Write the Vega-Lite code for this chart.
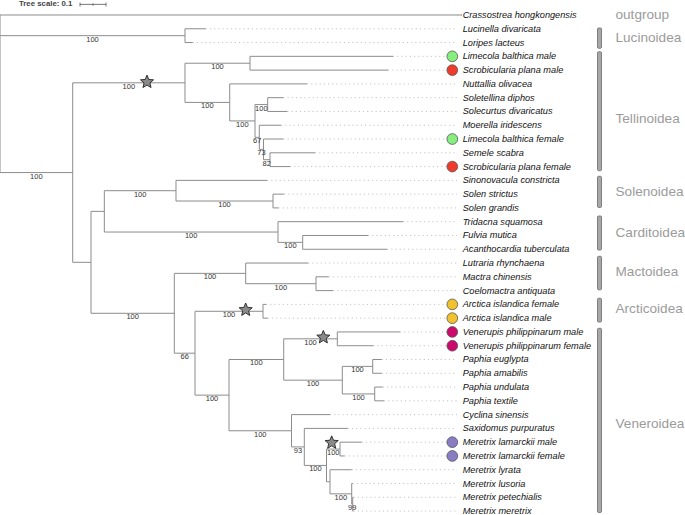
{
  "$schema": "https://vega.github.io/schema/vega-lite/v6.json",
  "width": 685,
  "height": 515,
  "autosize": {"type": "none"},
  "padding": 0,
  "background": "white",
  "config": {"view": {"stroke": null}, "text": {"font": "Liberation Sans"}},
  "datasets": {
    "nodes": [
      {"name": "root", "parent": null, "depth": 0, "row": 5.7175, "leaf": false},
      {"name": "n_luc", "parent": "root", "depth": 0.7115, "row": 1.5, "support": 100, "leaf": false},
      {"name": "n_A", "parent": "root", "depth": 0.2796, "row": 11.4351, "support": 100, "leaf": false},
      {"name": "n_tell", "parent": "n_A", "depth": 0.7115, "row": 4.9219, "support": 100, "leaf": false},
      {"name": "n_lsm", "parent": "n_tell", "depth": 0.9615, "row": 3.5, "support": 100, "leaf": false},
      {"name": "n_230", "parent": "n_tell", "depth": 0.8835, "row": 6.3438, "support": 100, "leaf": false},
      {"name": "n_254", "parent": "n_230", "depth": 0.9808, "row": 7.6875, "support": 100, "leaf": false},
      {"name": "n_solet", "parent": "n_254", "depth": 1.0296, "row": 6.5, "support": 100, "leaf": false},
      {"name": "n67", "parent": "n_254", "depth": 0.9973, "row": 8.875, "support": 67, "leaf": false},
      {"name": "n73", "parent": "n67", "depth": 1.0135, "row": 9.75, "support": 73, "leaf": false},
      {"name": "n82", "parent": "n73", "depth": 1.0385, "row": 10.5, "support": 82, "leaf": false},
      {"name": "n_91", "parent": "n_A", "depth": 0.35, "row": 17.9482, "leaf": false},
      {"name": "n_sc", "parent": "n_91", "depth": 0.4012, "row": 14.25, "leaf": false},
      {"name": "n_solenoidea", "parent": "n_sc", "depth": 0.6769, "row": 12.75, "support": 100, "leaf": false},
      {"name": "n_solen", "parent": "n_solenoidea", "depth": 1.05, "row": 13.5, "support": 100, "leaf": false},
      {"name": "n_card", "parent": "n_sc", "depth": 1.0692, "row": 15.75, "support": 100, "leaf": false},
      {"name": "n_fulvia", "parent": "n_card", "depth": 1.1642, "row": 16.5, "support": 100, "leaf": false},
      {"name": "n_174", "parent": "n_91", "depth": 0.6704, "row": 21.6465, "support": 100, "leaf": false},
      {"name": "n_mact", "parent": "n_174", "depth": 0.945, "row": 18.75, "support": 100, "leaf": false},
      {"name": "n_mactra", "parent": "n_mact", "depth": 1.2154, "row": 19.5, "support": 100, "leaf": false},
      {"name": "n66", "parent": "n_174", "depth": 0.75, "row": 24.543, "support": 66, "leaf": false},
      {"name": "n_arct", "parent": "n66", "depth": 1.0115, "row": 21.5, "support": 100, "leaf": false},
      {"name": "n_229", "parent": "n66", "depth": 0.8808, "row": 27.5859, "support": 100, "leaf": false},
      {"name": "n_vp", "parent": "n_229", "depth": 1.0912, "row": 25, "support": 100, "leaf": false},
      {"name": "n_ven", "parent": "n_vp", "depth": 1.2973, "row": 23.5, "support": 100, "leaf": false},
      {"name": "n_paph", "parent": "n_vp", "depth": 1.3165, "row": 26.5, "support": 100, "leaf": false},
      {"name": "n_paph1", "parent": "n_paph", "depth": 1.4335, "row": 25.5, "support": 100, "leaf": false},
      {"name": "n_paph2", "parent": "n_paph", "depth": 1.4412, "row": 27.5, "support": 100, "leaf": false},
      {"name": "n_cyc", "parent": "n_229", "depth": 1.1212, "row": 30.1719, "support": 100, "leaf": false},
      {"name": "n_sax", "parent": "n_cyc", "depth": 1.1704, "row": 31.3438, "support": 93, "leaf": false},
      {"name": "n_mer", "parent": "n_sax", "depth": 1.2558, "row": 32.6875, "support": 100, "leaf": false},
      {"name": "n_mlam", "parent": "n_mer", "depth": 1.3077, "row": 31.5, "support": 100, "leaf": false},
      {"name": "n_lyr", "parent": "n_mer", "depth": 1.2692, "row": 33.875, "leaf": false},
      {"name": "n_lus", "parent": "n_lyr", "depth": 1.3527, "row": 34.75, "support": 100, "leaf": false},
      {"name": "n99", "parent": "n_lus", "depth": 1.3565, "row": 35.5, "support": 99, "leaf": false},
      {"name": "Crassostrea hongkongensis", "parent": "root", "depth": 1.7769, "row": 0, "leaf": true},
      {"name": "Lucinella divaricata", "parent": "n_luc", "depth": 0.7912, "row": 1, "leaf": true},
      {"name": "Loripes lacteus", "parent": "n_luc", "depth": 0.7412, "row": 2, "leaf": true},
      {"name": "Limecola balthica male", "parent": "n_lsm", "depth": 1.5115, "row": 3, "leaf": true, "marker": "Limecola balthica"},
      {"name": "Scrobicularia plana male", "parent": "n_lsm", "depth": 1.4923, "row": 4, "leaf": true, "marker": "Scrobicularia plana"},
      {"name": "Nuttallia olivacea", "parent": "n_230", "depth": 1.1808, "row": 5, "leaf": true},
      {"name": "Soletellina diphos", "parent": "n_solet", "depth": 1.0896, "row": 6, "leaf": true},
      {"name": "Solecurtus divaricatus", "parent": "n_solet", "depth": 1.105, "row": 7, "leaf": true},
      {"name": "Moerella iridescens", "parent": "n67", "depth": 1.0808, "row": 8, "leaf": true},
      {"name": "Limecola balthica female", "parent": "n73", "depth": 1.0896, "row": 9, "leaf": true, "marker": "Limecola balthica"},
      {"name": "Semele scabra", "parent": "n82", "depth": 1.2115, "row": 10, "leaf": true},
      {"name": "Scrobicularia plana female", "parent": "n82", "depth": 1.1154, "row": 11, "leaf": true, "marker": "Scrobicularia plana"},
      {"name": "Sinonovacula constricta", "parent": "n_solenoidea", "depth": 1.0269, "row": 12, "leaf": true},
      {"name": "Solen strictus", "parent": "n_solen", "depth": 1.0923, "row": 13, "leaf": true},
      {"name": "Solen grandis", "parent": "n_solen", "depth": 1.0712, "row": 14, "leaf": true},
      {"name": "Tridacna squamosa", "parent": "n_card", "depth": 1.55, "row": 15, "leaf": true},
      {"name": "Fulvia mutica", "parent": "n_fulvia", "depth": 1.4154, "row": 16, "leaf": true},
      {"name": "Acanthocardia tuberculata", "parent": "n_fulvia", "depth": 1.4885, "row": 17, "leaf": true},
      {"name": "Lutraria rhynchaena", "parent": "n_mact", "depth": 1.1846, "row": 18, "leaf": true},
      {"name": "Mactra chinensis", "parent": "n_mactra", "depth": 1.2642, "row": 19, "leaf": true},
      {"name": "Coelomactra antiquata", "parent": "n_mactra", "depth": 1.2808, "row": 20, "leaf": true},
      {"name": "Arctica islandica female", "parent": "n_arct", "depth": 1.0231, "row": 21, "leaf": true, "marker": "Arctica islandica"},
      {"name": "Arctica islandica  male", "parent": "n_arct", "depth": 1.0296, "row": 22, "leaf": true, "marker": "Arctica islandica"},
      {"name": "Venerupis philippinarum male", "parent": "n_ven", "depth": 1.5385, "row": 23, "leaf": true, "marker": "Venerupis philippinarum"},
      {"name": "Venerupis philippinarum female", "parent": "n_ven", "depth": 1.4358, "row": 24, "leaf": true, "marker": "Venerupis philippinarum"},
      {"name": "Paphia euglypta", "parent": "n_paph1", "depth": 1.4681, "row": 25, "leaf": true},
      {"name": "Paphia amabilis", "parent": "n_paph1", "depth": 1.4681, "row": 26, "leaf": true},
      {"name": "Paphia undulata", "parent": "n_paph2", "depth": 1.4719, "row": 27, "leaf": true},
      {"name": "Paphia textile", "parent": "n_paph2", "depth": 1.4769, "row": 28, "leaf": true},
      {"name": "Cyclina sinensis", "parent": "n_cyc", "depth": 1.2692, "row": 29, "leaf": true},
      {"name": "Saxidomus purpuratus", "parent": "n_sax", "depth": 1.3373, "row": 30, "leaf": true},
      {"name": "Meretrix lamarckii male", "parent": "n_mlam", "depth": 1.3912, "row": 31, "leaf": true, "marker": "Meretrix lamarckii"},
      {"name": "Meretrix lamarckii female", "parent": "n_mlam", "depth": 1.325, "row": 32, "leaf": true, "marker": "Meretrix lamarckii"},
      {"name": "Meretrix lyrata", "parent": "n_lyr", "depth": 1.3527, "row": 33, "leaf": true},
      {"name": "Meretrix lusoria", "parent": "n_lus", "depth": 1.3565, "row": 34, "leaf": true},
      {"name": "Meretrix petechialis", "parent": "n99", "depth": 1.3596, "row": 35, "leaf": true},
      {"name": "Meretrix meretrix", "parent": "n99", "depth": 1.3596, "row": 36, "leaf": true}
    ],
    "stars": [
      {"clade": "Tellinoidea", "depth": 0.5654, "row": 4.86},
      {"clade": "Arctica islandica", "depth": 0.945, "row": 21.4},
      {"clade": "Venerupis philippinarum", "depth": 1.2436, "row": 23.39},
      {"clade": "Meretrix lamarckii", "depth": 1.2757, "row": 31.04}
    ],
    "clades": [
      {"clade": "outgroup", "labelRow": 0},
      {"clade": "Lucinoidea", "start": 0.943, "end": 2.417, "labelRow": 1.65},
      {"clade": "Tellinoidea", "start": 2.663, "end": 11.299, "labelRow": 7.57},
      {"clade": "Solenoidea", "start": 11.705, "end": 13.97, "labelRow": 12.85},
      {"clade": "Carditoidea", "start": 14.586, "end": 17.054, "labelRow": 15.84},
      {"clade": "Mactoidea", "start": 17.511, "end": 19.942, "labelRow": 18.63},
      {"clade": "Arcticoidea", "start": 20.559, "end": 22.279, "labelRow": 21.34},
      {"clade": "Veneroidea", "start": 22.736, "end": 36.103, "labelRow": 29.68}
    ],
    "scalebar": [
      {"label": "Tree scale: 0.1", "start": 0.3077, "end": 0.4077, "row": -0.77}
    ],
    "scaleticks": [
      {"pos": 0.3077, "kind": "end"},
      {"pos": 0.3577, "kind": "mid"},
      {"pos": 0.4077, "kind": "end"}
    ]
  },
  "layer": [
    {
      "data": {"name": "nodes"},
      "transform": [{"filter": "datum.leaf"}],
      "mark": {"type": "rule", "stroke": "#c4c4c4", "strokeWidth": 1, "strokeDash": [1.2, 3]},
      "encoding": {
        "x": {"field": "depth", "type": "quantitative", "scale": {"domain": [0, 2.6346], "nice": false, "zero": false}, "axis": null},
        "x2": {"datum": 1.7577},
        "y": {"field": "row", "type": "quantitative", "scale": {"domain": [-1.0885, 36.2845], "nice": false, "zero": false, "reverse": true}, "axis": null}
      }
    },
    {
      "data": {"name": "nodes"},
      "transform": [
        {"filter": "datum.parent != null"},
        {"lookup": "parent", "from": {"data": {"name": "nodes"}, "key": "name", "fields": ["depth"]}, "as": ["pdepth"]}
      ],
      "mark": {"type": "rule", "stroke": "#8c8c8c", "strokeWidth": 1},
      "encoding": {
        "x": {"field": "pdepth", "type": "quantitative", "scale": {"domain": [0, 2.6346], "nice": false, "zero": false}, "axis": null},
        "x2": {"field": "depth"},
        "y": {"field": "row", "type": "quantitative", "scale": {"domain": [-1.0885, 36.2845], "nice": false, "zero": false, "reverse": true}, "axis": null}
      }
    },
    {
      "data": {"name": "nodes"},
      "transform": [
        {"filter": "datum.parent != null"},
        {"aggregate": [{"op": "min", "field": "row", "as": "rmin"}, {"op": "max", "field": "row", "as": "rmax"}], "groupby": ["parent"]},
        {"lookup": "parent", "from": {"data": {"name": "nodes"}, "key": "name", "fields": ["depth"]}, "as": ["pdepth"]}
      ],
      "mark": {"type": "rule", "stroke": "#8c8c8c", "strokeWidth": 1},
      "encoding": {
        "x": {"field": "pdepth", "type": "quantitative", "scale": {"domain": [0, 2.6346], "nice": false, "zero": false}, "axis": null},
        "y": {"field": "rmin", "type": "quantitative", "scale": {"domain": [-1.0885, 36.2845], "nice": false, "zero": false, "reverse": true}, "axis": null},
        "y2": {"field": "rmax"}
      }
    },
    {
      "data": {"name": "nodes"},
      "transform": [
        {"filter": "datum.support != null"},
        {"lookup": "parent", "from": {"data": {"name": "nodes"}, "key": "name", "fields": ["depth"]}, "as": ["pdepth"]},
        {"calculate": "(datum.pdepth + datum.depth) / 2", "as": "mid"}
      ],
      "mark": {"type": "text", "fontSize": 7.5, "color": "#333333", "align": "center", "baseline": "middle", "dy": 4},
      "encoding": {
        "x": {"field": "mid", "type": "quantitative", "scale": {"domain": [0, 2.6346], "nice": false, "zero": false}, "axis": null},
        "y": {"field": "row", "type": "quantitative", "scale": {"domain": [-1.0885, 36.2845], "nice": false, "zero": false, "reverse": true}, "axis": null},
        "text": {"field": "support", "type": "quantitative"}
      }
    },
    {
      "data": {"name": "stars"},
      "mark": {"type": "point", "filled": true, "shape": "M0,-1L0.2645,-0.364L0.9511,-0.309L0.428,0.139L0.5878,0.809L0,0.45L-0.5878,0.809L-0.428,0.139L-0.9511,-0.309L-0.2645,-0.364Z", "size": 190, "fill": "#8a8a8a", "stroke": "#222222", "strokeWidth": 0.9, "opacity": 1},
      "encoding": {
        "x": {"field": "depth", "type": "quantitative", "scale": {"domain": [0, 2.6346], "nice": false, "zero": false}, "axis": null},
        "y": {"field": "row", "type": "quantitative", "scale": {"domain": [-1.0885, 36.2845], "nice": false, "zero": false, "reverse": true}, "axis": null}
      }
    },
    {
      "data": {"name": "nodes"},
      "transform": [{"filter": "datum.marker != null"}],
      "mark": {"type": "point", "filled": true, "shape": "circle", "size": 115, "stroke": "#555555", "strokeWidth": 0.8, "opacity": 1},
      "encoding": {
        "x": {"datum": 1.7396, "type": "quantitative", "scale": {"domain": [0, 2.6346], "nice": false, "zero": false}, "axis": null},
        "y": {"field": "row", "type": "quantitative", "scale": {"domain": [-1.0885, 36.2845], "nice": false, "zero": false, "reverse": true}, "axis": null},
        "fill": {"field": "marker", "type": "nominal", "legend": null, "scale": {"domain": ["Limecola balthica", "Scrobicularia plana", "Arctica islandica", "Venerupis philippinarum", "Meretrix lamarckii"], "range": ["#86ee7d", "#ee3b2c", "#f2c12e", "#cc0a6e", "#8a7cc4"]}}
      }
    },
    {
      "data": {"name": "nodes"},
      "transform": [{"filter": "datum.leaf"}],
      "mark": {"type": "text", "fontSize": 9.2, "fontStyle": "italic", "color": "#111111", "align": "left", "baseline": "middle"},
      "encoding": {
        "x": {"datum": 1.7795, "type": "quantitative", "scale": {"domain": [0, 2.6346], "nice": false, "zero": false}, "axis": null},
        "y": {"field": "row", "type": "quantitative", "scale": {"domain": [-1.0885, 36.2845], "nice": false, "zero": false, "reverse": true}, "axis": null},
        "text": {"field": "name", "type": "nominal"}
      }
    },
    {
      "data": {"name": "clades"},
      "transform": [{"filter": "datum.start != null"}],
      "mark": {"type": "rect", "fill": "#a8a8a8", "stroke": "#6a6a6a", "strokeWidth": 0.8, "cornerRadius": 1},
      "encoding": {
        "x": {"datum": 2.2981, "type": "quantitative", "scale": {"domain": [0, 2.6346], "nice": false, "zero": false}, "axis": null},
        "x2": {"datum": 2.3135},
        "y": {"field": "start", "type": "quantitative", "scale": {"domain": [-1.0885, 36.2845], "nice": false, "zero": false, "reverse": true}, "axis": null},
        "y2": {"field": "end"}
      }
    },
    {
      "data": {"name": "clades"},
      "mark": {"type": "text", "fontSize": 13.6, "color": "#9b9b9b", "align": "left", "baseline": "middle"},
      "encoding": {
        "x": {"datum": 2.3673, "type": "quantitative", "scale": {"domain": [0, 2.6346], "nice": false, "zero": false}, "axis": null},
        "y": {"field": "labelRow", "type": "quantitative", "scale": {"domain": [-1.0885, 36.2845], "nice": false, "zero": false, "reverse": true}, "axis": null},
        "text": {"field": "clade", "type": "nominal"}
      }
    },
    {
      "data": {"name": "scalebar"},
      "mark": {"type": "text", "fontSize": 7.8, "fontWeight": "bold", "color": "#444444", "align": "left", "baseline": "middle"},
      "encoding": {
        "x": {"datum": 0.0731, "type": "quantitative", "scale": {"domain": [0, 2.6346], "nice": false, "zero": false}, "axis": null},
        "y": {"field": "row", "type": "quantitative", "scale": {"domain": [-1.0885, 36.2845], "nice": false, "zero": false, "reverse": true}, "axis": null},
        "text": {"field": "label", "type": "nominal"}
      }
    },
    {
      "data": {"name": "scalebar"},
      "mark": {"type": "rule", "stroke": "#555555", "strokeWidth": 0.8},
      "encoding": {
        "x": {"field": "start", "type": "quantitative", "scale": {"domain": [0, 2.6346], "nice": false, "zero": false}, "axis": null},
        "x2": {"field": "end"},
        "y": {"field": "row", "type": "quantitative", "scale": {"domain": [-1.0885, 36.2845], "nice": false, "zero": false, "reverse": true}, "axis": null}
      }
    },
    {
      "data": {"name": "scaleticks"},
      "mark": {"type": "tick", "orient": "vertical", "color": "#555555", "thickness": 0.8, "opacity": 1},
      "encoding": {
        "x": {"field": "pos", "type": "quantitative", "scale": {"domain": [0, 2.6346], "nice": false, "zero": false}, "axis": null},
        "y": {"datum": -0.77, "type": "quantitative", "scale": {"domain": [-1.0885, 36.2845], "nice": false, "zero": false, "reverse": true}, "axis": null},
        "size": {"field": "kind", "type": "nominal", "legend": null, "scale": {"domain": ["end", "mid"], "range": [4, 2.5]}}
      }
    }
  ]
}
